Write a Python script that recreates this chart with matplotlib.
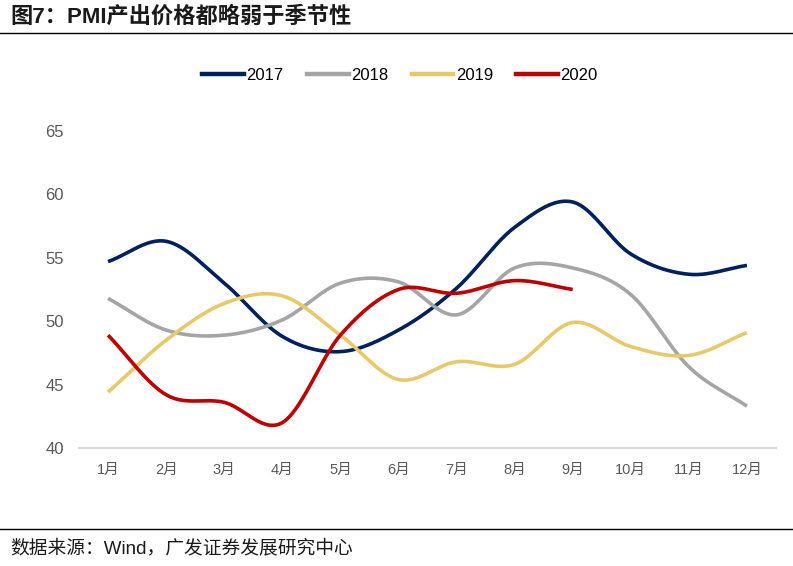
import numpy as np
import matplotlib
matplotlib.use("Agg")
import matplotlib.pyplot as plt
from matplotlib.lines import Line2D

plt.rcParams['font.family'] = ['Liberation Sans', 'Noto Sans CJK SC', 'DejaVu Sans']

months = ['1月', '2月', '3月', '4月', '5月', '6月', '7月', '8月', '9月', '10月', '11月', '12月']
s2017 = [54.7, 56.3, 53.0, 48.8, 47.6, 49.3, 52.6, 57.4, 59.4, 55.3, 53.7, 54.4]
s2018 = [51.8, 49.3, 48.9, 50.1, 53.0, 53.1, 50.5, 54.2, 54.2, 52.1, 46.4, 43.3]
s2019 = [44.4, 48.5, 51.4, 52.0, 48.9, 45.4, 46.8, 46.6, 49.9, 48.0, 47.3, 49.1]
s2020 = [48.9, 44.2, 43.6, 42.0, 48.9, 52.5, 52.2, 53.2, 52.5]

series = [('2017', s2017, '#002060'), ('2018', s2018, '#A5A5A5'),
          ('2019', s2019, '#E8C96A'), ('2020', s2020, '#C00000')]


def smooth(xs, ys, n=40):
    xs = np.asarray(xs, float); ys = np.asarray(ys, float)
    px = np.concatenate([[2 * xs[0] - xs[1]], xs, [2 * xs[-1] - xs[-2]]])
    py = np.concatenate([[2 * ys[0] - ys[1]], ys, [2 * ys[-1] - ys[-2]]])
    outx, outy = [], []
    t = np.linspace(0, 1, n)
    for i in range(1, len(px) - 2):
        p0 = np.array([px[i - 1], py[i - 1]]); p1 = np.array([px[i], py[i]])
        p2 = np.array([px[i + 1], py[i + 1]]); p3 = np.array([px[i + 2], py[i + 2]])
        c1 = p1 + (p2 - p0) / 6.0
        c2 = p2 - (p3 - p1) / 6.0
        b = ((1 - t) ** 3)[:, None] * p1 + (3 * (1 - t) ** 2 * t)[:, None] * c1 + \
            (3 * (1 - t) * t ** 2)[:, None] * c2 + (t ** 3)[:, None] * p2
        outx.extend(b[:, 0]); outy.extend(b[:, 1])
    return outx, outy


fig = plt.figure(figsize=(7.93, 5.66), dpi=100)
ax = fig.add_axes([79 / 793, 1 - 448 / 566, 697 / 793, 317 / 566])

handles = []
for name, vals, col in series:
    x = np.arange(1, len(vals) + 1)
    sx, sy = smooth(x, vals)
    ax.plot(sx, sy, color=col, lw=2.6, solid_capstyle='butt')
    handles.append(Line2D([0], [0], color=col, lw=3.2))

ax.set_xlim(0.5, 12.5)
ax.set_ylim(40, 65)
ax.set_yticks([40, 45, 50, 55, 60, 65])
ax.set_xticks(np.arange(1, 13))
ax.set_xticklabels(months)
for s in ['top', 'right', 'left']:
    ax.spines[s].set_visible(False)
ax.spines['bottom'].set_color('#D9D9D9')
ax.spines['bottom'].set_linewidth(1.5)
ax.tick_params(axis='both', length=0, colors='#595959')
ax.tick_params(axis='y', labelsize=12, pad=11)
ax.tick_params(axis='x', labelsize=10.5, pad=11)

fig.legend(handles, ['2017', '2018', '2019', '2020'], loc='center',
           bbox_to_anchor=(400 / 793, 1 - 75 / 566), ncol=4, frameon=False,
           fontsize=12, handlelength=2.5, handletextpad=0.15, columnspacing=1.4)

fig.text(10 / 793, 1 - 17 / 566, '图7：PMI产出价格都略弱于季节性', fontsize=16,
         fontweight='bold', color='#1a1a1a', va='center', ha='left')
fig.add_artist(Line2D([0, 1], [1 - 33 / 566, 1 - 33 / 566], color='black', lw=1.0))
fig.add_artist(Line2D([0, 1], [1 - 529 / 566, 1 - 529 / 566], color='black', lw=1.0))
fig.text(10 / 793, 1 - 548 / 566, '数据来源：Wind，广发证券发展研究中心', fontsize=13.5,
         color='#1a1a1a', va='center', ha='left')

fig.savefig('out.png', dpi=100)
